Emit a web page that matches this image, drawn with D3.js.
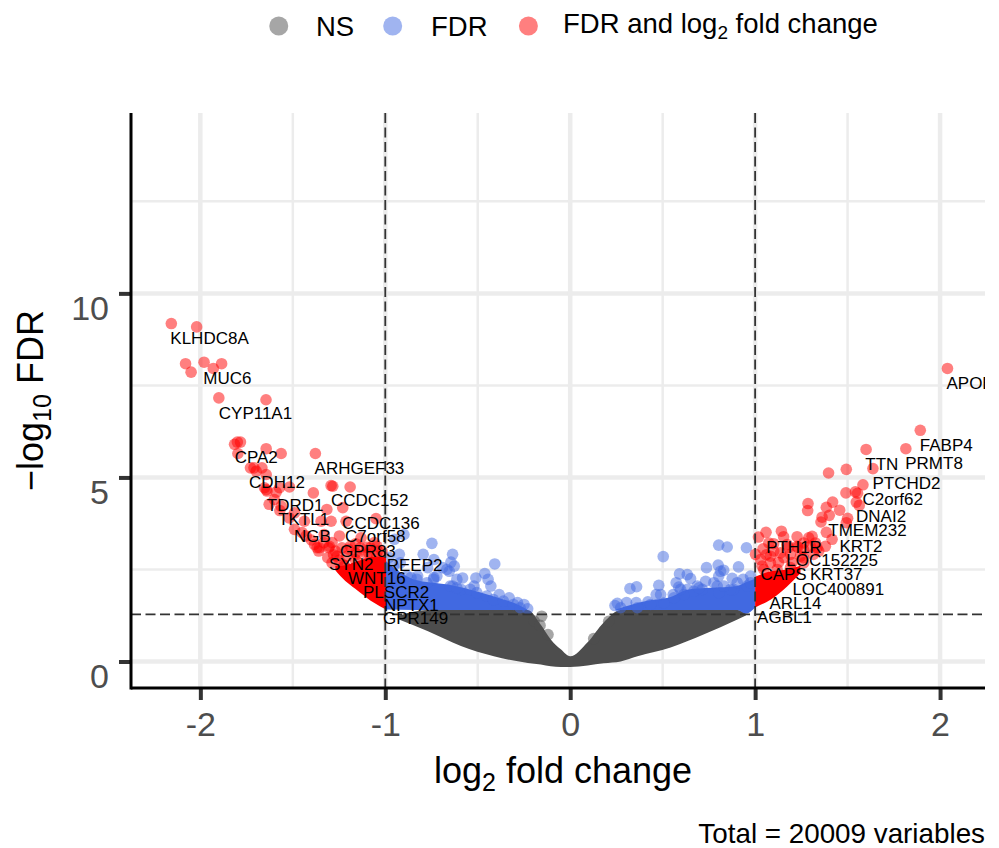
<!DOCTYPE html>
<html>
<head>
<meta charset="utf-8">
<script src="https://cdn.jsdelivr.net/npm/d3@7"></script>
<style>
  html, body { margin: 0; padding: 0; background: #fff; }
  svg { display: block; }
  text { font-family: "Liberation Sans", Arial, sans-serif; }
</style>
</head>
<body>
<div id="volcano"></div>
<script>
// values: log2 fold change, -log10 FDR
var xMajor = [-2, -1, 0, 1, 2];
var xMinor = [-1.5, -0.5, 0.5, 1.5];
var yMajor = [0, 5, 10];
var yMinor = [2.5, 7.5, 12.5];
var fcCut = [-1, 1];
var fdrCut = 1.28;

// The thousands of overlapping points near the middle merge into solid shapes,
// so those are kept as read outlines: [x, lower edge, upper edge]
var nsCloud = [[-0.926,1.14,1.25],[-0.769,0.82,1.4],[-0.591,0.42,1.4],[-0.413,0.14,1.4],[-0.229,-0.04,1.4],[-0.159,-0.08,1.0],[-0.105,-0.13,0.6],[-0.051,-0.15,0.33],[0,-0.15,0.14],[0.094,-0.11,0.52],[0.181,-0.05,1.06],[0.273,0,1.4],[0.364,0.14,1.4],[0.543,0.38,1.4],[0.721,0.73,1.4],[0.904,1.14,1.4],[0.95,1.25,1.3]];
var fdrCloudLeft = [[-0.996,1.41,2.72],[-0.845,1.4,2.23],[-0.661,1.4,2.09],[-0.484,1.4,1.875],[-0.394,1.4,1.74],[-0.308,1.4,1.6],[-0.232,1.4,1.41]];
var fdrCloudRight = [[0.245,1.4,1.41],[0.417,1.4,1.65],[0.543,1.4,1.75],[0.633,1.4,1.95],[0.759,1.4,2.0],[0.903,1.4,2.05],[0.95,1.3,2.15],[1.0,1.47,2.25]];
var bothCloudLeft = [[-1.27,2.48,2.6],[-1.243,2.32,2.6],[-1.135,1.87,2.75],[-1.063,1.6,2.85],[-0.996,1.41,2.85]];
var bothCloudRight = [[1.0,1.47,2.3],[1.083,1.68,2.45],[1.173,2.04,2.5],[1.245,2.4,2.6]];

var nsPoints = [[-0.154,1.23],[-0.195,1.1],[-0.163,0.98],[-0.12,0.73],[0.127,0.62],[0.208,1.09]];

var fdrPoints = [[-0.748,3.21],[-0.795,2.91],[-0.636,2.91],[-0.408,2.65],[-0.645,2.7],[-0.627,2.59],[-0.654,2.45],[-0.582,2.27],[-0.51,2.27],[-0.462,2.39],[-0.444,2.23],[-0.429,2.05],[-0.52,2.05],[-0.384,1.82],[-0.33,1.73],[-0.285,1.6],[-0.25,1.55],[-0.23,1.43],[-0.737,2.77],[-0.69,2.55],[-0.771,2.55],[-0.825,2.32],[-0.861,2.28],[-0.924,2.91],[-0.951,3.32],[-0.899,3.45],[-0.98,2.83],[-0.737,2.28],[-0.636,2.05],[-0.591,1.96],
  [-0.883,2.32],[-0.829,2.23],[-0.739,2.23],[-0.649,2.05],[-0.613,2.0],[-0.541,1.96],[-0.505,1.87],[-0.451,1.78],[-0.415,1.68],[-0.361,1.64],[-0.307,1.55],[-0.271,1.46],[-0.955,2.32],[-0.955,2.59],[-0.919,2.68],[-0.667,2.5],[-0.721,2.32],[-0.775,2.14],[-0.613,2.23],
  [0.503,2.85],[0.803,3.16],[0.849,3.11],[0.953,3.09],[0.8,2.62],[0.737,2.55],[0.91,2.57],[0.83,2.48],[0.813,2.45],[0.803,2.32],[0.876,2.26],[0.975,2.32],[0.935,2.23],[0.591,2.38],[0.633,2.36],[0.651,2.25],[0.573,2.14],[0.587,2.02],[0.479,2.07],[0.359,2.03],[0.323,1.98],[0.465,1.82],[0.732,2.18],[0.795,2.05],[0.633,1.96],[0.255,1.58],[0.242,1.52],[0.305,1.6],[0.357,1.6],[0.42,1.62],[0.557,1.82],[0.687,2.05],[0.883,1.96],[0.957,2.05],
  [0.273,1.46],[0.363,1.46],[0.435,1.55],[0.507,1.59],[0.561,1.73],[0.615,1.82],[0.669,1.91],[0.714,1.96],[0.804,1.87],[0.867,1.96],[0.903,2.14],[0.777,2.14],[0.696,2.0],[0.489,1.82],[0.597,1.96],[0.831,2.05],[0.975,2.14]];

var bothPoints = [[-2.157,9.18],[-2.02,9.09],[-2.08,8.09],[-2.05,7.86],[-1.98,8.13],[-1.93,7.96],[-1.885,8.09],[-1.9,7.16],[-1.645,7.11],[-1.8,5.96],[-1.783,5.96],[-1.815,5.9],[-1.797,5.65],[-1.644,5.78],[-1.563,5.65],[-1.378,5.65],[-1.729,5.26],[-1.71,5.26],[-1.667,5.26],[-1.698,5.17],[-1.644,5.08],[-1.653,4.72],[-1.639,4.63],[-1.59,4.6],[-1.572,4.72],[-1.518,4.74],[-1.389,4.58],[-1.293,4.78],[-1.284,4.76],[-1.19,4.74],[-1.644,4.67],[-1.23,4.18],[-1.316,4.13],[-1.628,4.27],[-1.563,4.22],[-1.491,4.04],[-1.293,3.81],[-1.212,3.81],[-1.05,3.88],[-1.347,3.81],[-1.437,3.81],[-1.491,3.59],[-1.248,3.41],[-1.33,3.45],[-1.428,3.41],[-1.383,3.18],[-1.356,3.09],[-1.302,3.13],[-1.311,2.82],[-1.059,3.23],[-1.131,3.36],
  [-1.36,3.0],[-1.4,3.3],[-1.45,3.5],[-1.52,3.9],[-1.57,4.1],[-1.6,4.4],[-1.28,2.9],[-1.25,2.75],[-1.22,2.6],[-1.18,2.5],[-1.15,2.4],[-1.27,3.0],[-1.2,3.05],[-1.16,3.2],[-1.1,3.1],[-1.09,2.95],[-1.04,3.0],[-1.16,2.95],
  [-1.369,3.09],[-1.306,3.09],[-1.333,3.23],[-1.288,3.23],[-1.234,3.09],[-1.189,3.13],[-1.135,3.09],[-1.081,3.09],[-1.045,3.13],[-1.018,3.0],[-1.261,2.86],[-1.207,2.86],[-1.153,2.91],[-1.099,2.91],[-1.045,2.86],[-1.288,2.68],[-1.225,2.63],[-1.162,2.77],
  [2.04,7.96],[1.893,6.28],[1.815,5.78],[1.6,5.76],[1.637,5.24],[1.493,5.22],[1.397,5.12],[1.583,4.8],[1.542,4.61],[1.554,4.57],[1.491,4.58],[1.547,4.33],[1.563,4.24],[1.419,4.33],[1.385,4.19],[1.286,4.29],[1.284,4.1],[1.457,4.11],[1.401,3.97],[1.362,3.92],[1.356,3.79],[1.5,3.89],[1.493,3.77],[1.385,3.51],[1.416,3.32],
  [1.018,3.38],[1.059,3.51],[1.142,3.54],[1.154,3.39],[1.227,3.39],[1.29,3.36],[1.308,3.4],[1.38,3.13],[1.043,3.06],[1.002,2.91],[1.083,2.86],[1.137,2.95],[1.262,3.04],[1.335,3.09],[1.038,2.59],[1.126,2.69],[1.2,2.69],[1.261,2.82],[1.315,2.91],[1.06,2.9],[1.18,3.1],[1.1,3.2],[1.23,3.1],
  [1.029,2.77],[1.083,2.68],[1.155,2.82],[1.101,3.0],[1.191,2.91],[1.245,2.86],[1.299,3.13],[1.173,3.18],[1.227,3.13],[1.263,3.22],[1.326,3.22],[1.119,2.5],[1.191,2.55],[1.074,3.22],[1.047,2.5],[1.263,2.68],[1.344,3.0]];

var geneNames = ["KLHDC8A","MUC6","CYP11A1","CPA2","ARHGEF33","CDH12","CCDC152","TDRD1","TKTL1","CCDC136","C7orf58","NGB","GPR83","SYN2","REEP2","WNT16","PLSCR2","NPTX1","GPR149","AGBL1","ARL14","LOC400891","CAPS","KRT37","LOC152225","PTH1R","KRT2","TMEM232","DNAI2","C2orf62","PTCHD2","TTN","PRMT8","FABP4","APOB"];
var geneX = [-2.157,-1.979,-1.895,-1.809,-1.377,-1.731,-1.288,-1.635,-1.574,-1.228,-1.212,-1.488,-1.239,-1.299,-0.987,-1.196,-1.115,-1.002,-1.007,1.016,1.083,1.207,1.034,1.302,1.174,1.065,1.461,1.401,1.551,1.586,1.64,1.601,1.817,1.896,2.04];
var geneY = [8.67,7.59,6.63,5.43,5.14,4.76,4.27,4.13,3.75,3.65,3.3,3.29,2.88,2.53,2.5,2.15,1.77,1.41,1.07,1.1,1.47,1.84,2.25,2.25,2.64,3.0,3.02,3.45,3.84,4.29,4.72,5.24,5.26,5.76,7.45];

var svgWidth = 999;
var svgHeight = 848;
var margin = { top: 113, right: 14, bottom: 160, left: 131 };
var width = svgWidth - margin.left - margin.right;
var height = svgHeight - margin.top - margin.bottom;

var nsColor = "#4d4d4d", fdrColor = "#4169e1", bothColor = "#ff0000";

var svg = d3.select("#volcano").append("svg")
  .attr("width", svgWidth)
  .attr("height", svgHeight);

var x = d3.scaleLinear().domain([-2.375, 2.243]).range([0, width]);
var y = d3.scaleLinear().domain([-0.72, 14.9]).range([height, 0]);

var chart = svg.append("g").attr("transform", `translate(${margin.left}, ${margin.top})`);

svg.append("clipPath").attr("id", "plot-clip").append("rect")
  .attr("width", width).attr("height", height);

// grid
function vGrid(vals, w) {
  chart.append("g").selectAll("line").data(vals).enter().append("line")
    .attr("x1", d => x(d)).attr("x2", d => x(d))
    .attr("y1", 0).attr("y2", height)
    .attr("stroke", "#ececec").attr("stroke-width", w);
}
function hGrid(vals, w) {
  chart.append("g").selectAll("line").data(vals).enter().append("line")
    .attr("x1", 0).attr("x2", width)
    .attr("y1", d => y(d)).attr("y2", d => y(d))
    .attr("stroke", "#ececec").attr("stroke-width", w);
}
hGrid(yMinor, 2.5);
vGrid(xMinor, 2.5);
hGrid(yMajor, 4.5);
vGrid(xMajor, 4.5);

// clouds and points
var cloud = d3.area()
  .x(d => x(d[0])).y0(d => y(d[1])).y1(d => y(d[2]))
  .curve(d3.curveMonotoneX);

function drawCloud(rows, color) {
  chart.append("path").attr("d", cloud(rows)).attr("fill", color);
}
function drawPoints(rows, color) {
  chart.append("g").selectAll("circle").data(rows).enter().append("circle")
    .attr("cx", d => x(d[0])).attr("cy", d => y(d[1]))
    .attr("r", 5.8)
    .attr("fill", color).attr("opacity", 0.5);
}

drawCloud(nsCloud, nsColor);
drawPoints(nsPoints, nsColor);
drawCloud(fdrCloudLeft, fdrColor);
drawCloud(fdrCloudRight, fdrColor);
drawPoints(fdrPoints, fdrColor);
drawCloud(bothCloudLeft, bothColor);
drawCloud(bothCloudRight, bothColor);
drawPoints(bothPoints, bothColor);

// cut-off lines
chart.append("g").selectAll("line").data(fcCut).enter().append("line")
  .attr("x1", d => x(d)).attr("x2", d => x(d))
  .attr("y1", 0).attr("y2", height)
  .attr("stroke", "#333").attr("stroke-width", 1.8).attr("stroke-dasharray", "10,4.5");
chart.append("line")
  .attr("x1", 0).attr("x2", width)
  .attr("y1", y(fdrCut)).attr("y2", y(fdrCut))
  .attr("stroke", "#333").attr("stroke-width", 1.8).attr("stroke-dasharray", "10,4.5");

// gene labels
chart.append("g").attr("clip-path", "url(#plot-clip)")
  .selectAll("text").data(geneNames).enter().append("text")
  .attr("x", (d, i) => x(geneX[i]))
  .attr("y", (d, i) => y(geneY[i]))
  .attr("dx", -1).attr("dy", 1.5)
  .attr("font-size", 17)
  .attr("fill", "#000")
  .text(d => d);

// axes
var bottomAxis = d3.axisBottom(x).tickValues(xMajor).tickSize(12).tickPadding(12).tickFormat(d => d3.format("d")(d).replace("−", "-"));
var leftAxis = d3.axisLeft(y).tickValues(yMajor).tickSize(12).tickPadding(10).tickFormat(d3.format("d"));

var gx = chart.append("g").attr("transform", `translate(0, ${height})`).call(bottomAxis);
var gy = chart.append("g").call(leftAxis);

[gx, gy].forEach(function (g) {
  g.selectAll(".tick line").attr("stroke", "#333").attr("stroke-width", 4);
  g.selectAll(".tick text").attr("fill", "#4d4d4d").attr("font-size", 34)
    .attr("font-family", '"Liberation Sans", Arial, sans-serif');
  g.select(".domain").attr("d", null);
});
// the y labels sit below their ticks in the reference
gy.selectAll(".tick text").attr("dy", 26.5);

chart.append("line").attr("x1", 0).attr("x2", 0).attr("y1", 0).attr("y2", height + 1.5)
  .attr("stroke", "#000").attr("stroke-width", 3);
chart.append("line").attr("x1", 0).attr("x2", width).attr("y1", height).attr("y2", height)
  .attr("stroke", "#000").attr("stroke-width", 3);

// axis titles
var xTitle = svg.append("text").attr("x", 434).attr("y", 783).attr("font-size", 36).attr("fill", "#000");
xTitle.append("tspan").text("log");
xTitle.append("tspan").attr("dy", 8).attr("font-size", 25).text("2");
xTitle.append("tspan").attr("dy", -8).text(" fold change");

var yTitle = svg.append("text").attr("transform", "translate(43, 491) rotate(-90)").attr("font-size", 36).attr("fill", "#000");
yTitle.append("tspan").text("\u2212log");
yTitle.append("tspan").attr("dy", 8).attr("font-size", 25).text("10");
yTitle.append("tspan").attr("dy", -8).text(" FDR");

// legend
var legendColors = [nsColor, fdrColor, bothColor];
var legendValues = [-1.576, -0.96, -0.226];
svg.append("g").selectAll("circle").data(legendColors).enter().append("circle")
  .attr("cx", (d, i) => margin.left + x(legendValues[i]))
  .attr("cy", 26).attr("r", 9.5)
  .attr("fill", d => d).attr("opacity", 0.5);

svg.append("text").attr("x", 316).attr("y", 36).attr("font-size", 27.5).text("NS");
svg.append("text").attr("x", 431).attr("y", 36).attr("font-size", 27.5).text("FDR");
var legendBoth = svg.append("text").attr("x", 563).attr("y", 33).attr("font-size", 27.5);
legendBoth.append("tspan").text("FDR and log");
legendBoth.append("tspan").attr("dy", 6).attr("font-size", 19).text("2");
legendBoth.append("tspan").attr("dy", -6).text(" fold change");

// caption
svg.append("text").attr("x", 985).attr("y", 843).attr("text-anchor", "end").attr("font-size", 27.8).text("Total = 20009 variables");
</script>
</body>
</html>
